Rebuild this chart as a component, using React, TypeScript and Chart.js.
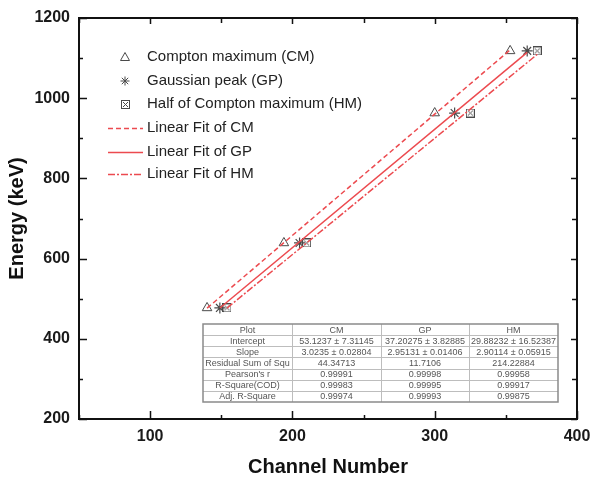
import React, { useEffect, useRef } from "react";
import { Chart, registerables } from "chart.js";

Chart.register(...registerables);

// ---------- data ----------
const energies = [477, 639, 963, 1118];
const cmChannels = [140, 194, 300, 353];
const gpChannels = [149, 205, 314, 365];
const hmChannels = [154, 210, 325, 372];

const cmFitX = [140, 353];
const cmFitY = [476.4, 1120.4];
const gpFitX = [149, 365];
const gpFitY = [476.9, 1114.4];
const hmFitX = [154, 372];
const hmFitY = [476.6, 1109.1];

const xTicks = [100, 200, 300, 400];
const xMinorTicks = [50, 150, 250, 350];
const yTicks = [200, 400, 600, 800, 1000, 1200];
const yMinorTicks = [300, 500, 700, 900, 1100];

const legendLabels = [
  "Compton maximum (CM)",
  "Gaussian peak (GP)",
  "Half of Compton maximum (HM)",
  "Linear Fit of CM",
  "Linear Fit of GP",
  "Linear Fit of HM",
];

const tableHeader = ["Plot", "CM", "GP", "HM"];
const tableRows = [
  ["Intercept", "53.1237 ± 7.31145", "37.20275 ± 3.82885", "29.88232 ± 16.52387"],
  ["Slope", "3.0235 ± 0.02804", "2.95131 ± 0.01406", "2.90114 ± 0.05915"],
  ["Residual Sum of Squ", "44.34713", "11.7106", "214.22884"],
  ["Pearson's r", "0.99991", "0.99998", "0.99958"],
  ["R-Square(COD)", "0.99983", "0.99995", "0.99917"],
  ["Adj. R-Square", "0.99974", "0.99993", "0.99875"],
];

const xTitle = "Channel Number";
const yTitle = "Energy (keV)";

// ---------- styles ----------
const FONT = "'Liberation Sans', Arial, sans-serif";
const RED = "#ec4a4f";
const MARK = "#4a4a4a";

function makeHMMarker(): HTMLCanvasElement {
  const c = document.createElement("canvas");
  c.width = 9;
  c.height = 9;
  const g = c.getContext("2d")!;
  g.strokeStyle = MARK;
  g.lineWidth = 1;
  g.strokeRect(0.5, 0.5, 8, 8);
  g.beginPath();
  g.moveTo(2, 2);
  g.lineTo(7, 7);
  g.moveTo(7, 2);
  g.lineTo(2, 7);
  g.stroke();
  return c;
}

export default function App() {
  const ref = useRef<HTMLCanvasElement | null>(null);

  useEffect(() => {
    document.body.style.margin = "0";
    const canvas = ref.current!;
    const hmMarker = makeHMMarker();

    const pts = (xs: number[], ys: number[]) => xs.map((x, i) => ({ x, y: ys[i] }));

    const decorPlugin = {
      id: "decor",
      afterDraw(chart: any) {
        const ctx = chart.ctx as CanvasRenderingContext2D;
        const a = chart.chartArea;
        const xs = chart.scales.x;
        const ys = chart.scales.y;
        ctx.save();
        // box
        ctx.strokeStyle = "#111";
        ctx.lineWidth = 2;
        ctx.strokeRect(a.left, a.top, a.right - a.left, a.bottom - a.top);
        // ticks
        ctx.lineWidth = 1.5;
        ctx.beginPath();
        const xt = (v: number, len: number, lenTop: number) => {
          const px = Math.round(xs.getPixelForValue(v)) + 0.5;
          ctx.moveTo(px, a.bottom);
          ctx.lineTo(px, a.bottom - len);
          ctx.moveTo(px, a.top);
          ctx.lineTo(px, a.top + lenTop);
        };
        const yt = (v: number, len: number, lenR: number) => {
          const py = Math.round(ys.getPixelForValue(v)) + 0.5;
          ctx.moveTo(a.left, py);
          ctx.lineTo(a.left + len, py);
          ctx.moveTo(a.right, py);
          ctx.lineTo(a.right - lenR, py);
        };
        xTicks.forEach((v) => xt(v, 8, 6));
        xMinorTicks.forEach((v) => xt(v, 4, 5));
        yTicks.forEach((v) => yt(v, 8, 6));
        yMinorTicks.forEach((v) => yt(v, 4, 5));
        ctx.stroke();

        // axis titles
        ctx.fillStyle = "#111";
        ctx.font = `bold 20px ${FONT}`;
        ctx.textAlign = "center";
        ctx.textBaseline = "middle";
        ctx.fillText(xTitle, (a.left + a.right) / 2, 467);
        ctx.save();
        ctx.translate(17, (a.top + a.bottom) / 2);
        ctx.rotate(-Math.PI / 2);
        ctx.fillText(yTitle, 0, 0);
        ctx.restore();

        // legend
        const ly = [57, 81, 104, 128, 152, 174];
        ctx.font = `15px ${FONT}`;
        ctx.textAlign = "left";
        ctx.fillStyle = "#222";
        legendLabels.forEach((t, i) => ctx.fillText(t, 147, ly[i]));
        // markers
        ctx.strokeStyle = MARK;
        ctx.lineWidth = 1;
        // triangle
        ctx.beginPath();
        ctx.moveTo(125, ly[0] - 4.5);
        ctx.lineTo(129.5, ly[0] + 3.5);
        ctx.lineTo(120.5, ly[0] + 3.5);
        ctx.closePath();
        ctx.stroke();
        // star
        ctx.beginPath();
        ctx.moveTo(125, ly[1] - 4.5);
        ctx.lineTo(125, ly[1] + 4.5);
        ctx.moveTo(120.5, ly[1]);
        ctx.lineTo(129.5, ly[1]);
        ctx.moveTo(121.8, ly[1] - 3.2);
        ctx.lineTo(128.2, ly[1] + 3.2);
        ctx.moveTo(128.2, ly[1] - 3.2);
        ctx.lineTo(121.8, ly[1] + 3.2);
        ctx.stroke();
        ctx.drawImage(hmMarker, 121, ly[2] - 4);
        // lines
        ctx.strokeStyle = RED;
        ctx.lineWidth = 1.5;
        const dashes = [[5, 3], [], [7, 2, 2, 2]];
        dashes.forEach((d, i) => {
          ctx.setLineDash(d);
          ctx.beginPath();
          ctx.moveTo(108, ly[3 + i] + 0.5);
          ctx.lineTo(143, ly[3 + i] + 0.5);
          ctx.stroke();
        });
        ctx.setLineDash([]);

        // table
        const tl = 203, tr = 558, tt = 324, tb = 402;
        const cols = [203, 292, 381, 469, 558];
        const rh = (tb - tt) / 7;
        ctx.strokeStyle = "#bdbdbd";
        ctx.lineWidth = 1;
        ctx.beginPath();
        for (let r = 1; r < 7; r++) {
          const y = Math.round(tt + r * rh) + 0.5;
          ctx.moveTo(tl, y);
          ctx.lineTo(tr, y);
        }
        for (let c = 1; c < 4; c++) {
          ctx.moveTo(cols[c] + 0.5, tt);
          ctx.lineTo(cols[c] + 0.5, tb);
        }
        ctx.stroke();
        ctx.strokeStyle = "#8a8a8a";
        ctx.lineWidth = 1.5;
        ctx.strokeRect(tl, tt, tr - tl, tb - tt);
        ctx.font = `9px ${FONT}`;
        ctx.fillStyle = "#555";
        ctx.textAlign = "center";
        const all = [tableHeader, ...tableRows];
        all.forEach((row, r) => {
          row.forEach((txt, c) => {
            ctx.fillText(txt, (cols[c] + cols[c + 1]) / 2, tt + (r + 0.5) * rh + 0.5);
          });
        });
        ctx.restore();
      },
    };

    const chart = new Chart(canvas, {
      type: "scatter",
      data: {
        datasets: [
          {
            type: "line",
            data: pts(cmFitX, cmFitY),
            borderColor: RED,
            borderWidth: 1.5,
            borderDash: [5, 3],
            pointRadius: 0,
            fill: false,
          },
          {
            type: "line",
            data: pts(gpFitX, gpFitY),
            borderColor: RED,
            borderWidth: 1.5,
            pointRadius: 0,
            fill: false,
          },
          {
            type: "line",
            data: pts(hmFitX, hmFitY),
            borderColor: RED,
            borderWidth: 1.5,
            borderDash: [7, 2, 2, 2],
            pointRadius: 0,
            fill: false,
          },
          {
            data: pts(cmChannels, energies),
            pointStyle: "triangle",
            pointRadius: 5.5,
            borderColor: MARK,
            backgroundColor: "rgba(0,0,0,0)",
            borderWidth: 1,
          },
          {
            data: pts(gpChannels, energies),
            pointStyle: "star",
            pointRadius: 5.5,
            borderColor: MARK,
            backgroundColor: "rgba(0,0,0,0)",
            borderWidth: 1.2,
          },
          {
            data: pts(hmChannels, energies),
            pointStyle: hmMarker as any,
            pointRadius: 5,
            borderColor: MARK,
            backgroundColor: "rgba(0,0,0,0)",
            borderWidth: 1,
          },
        ],
      },
      options: {
        responsive: false,
        animation: false,
        devicePixelRatio: 1,
        layout: { padding: { top: 18, right: 14, left: 0, bottom: 0 } },
        plugins: {
          legend: { display: false },
          tooltip: { enabled: false },
        },
        scales: {
          x: {
            type: "linear",
            min: 50,
            max: 400,
            grid: { display: false, drawTicks: false },
            border: { display: false },
            afterBuildTicks: (s: any) => {
              s.ticks = xTicks.map((v) => ({ value: v }));
            },
            afterFit: (s: any) => {
              s.height = 61;
              s.paddingLeft = 0;
              s.paddingRight = 0;
            },
            ticks: {
              padding: 8,
              maxRotation: 0,
              autoSkip: false,
              color: "#1a1a1a",
              font: { family: FONT, size: 16, weight: "bold" },
              callback: (v: any) => String(v),
            },
          },
          y: {
            type: "linear",
            min: 200,
            max: 1200,
            grid: { display: false, drawTicks: false },
            border: { display: false },
            afterBuildTicks: (s: any) => {
              s.ticks = yTicks.map((v) => ({ value: v }));
            },
            afterFit: (s: any) => {
              s.width = 79;
              s.paddingTop = 0;
              s.paddingBottom = 0;
            },
            ticks: {
              padding: 9,
              autoSkip: false,
              color: "#1a1a1a",
              font: { family: FONT, size: 16, weight: "bold" },
              callback: (v: any) => String(v),
            },
          },
        },
      },
      plugins: [decorPlugin],
    } as any);

    return () => chart.destroy();
  }, []);

  return (
    <div style={{ width: 591, height: 480, background: "#fff" }}>
      <canvas ref={ref} width={591} height={480} style={{ display: "block" }} />
    </div>
  );
}
